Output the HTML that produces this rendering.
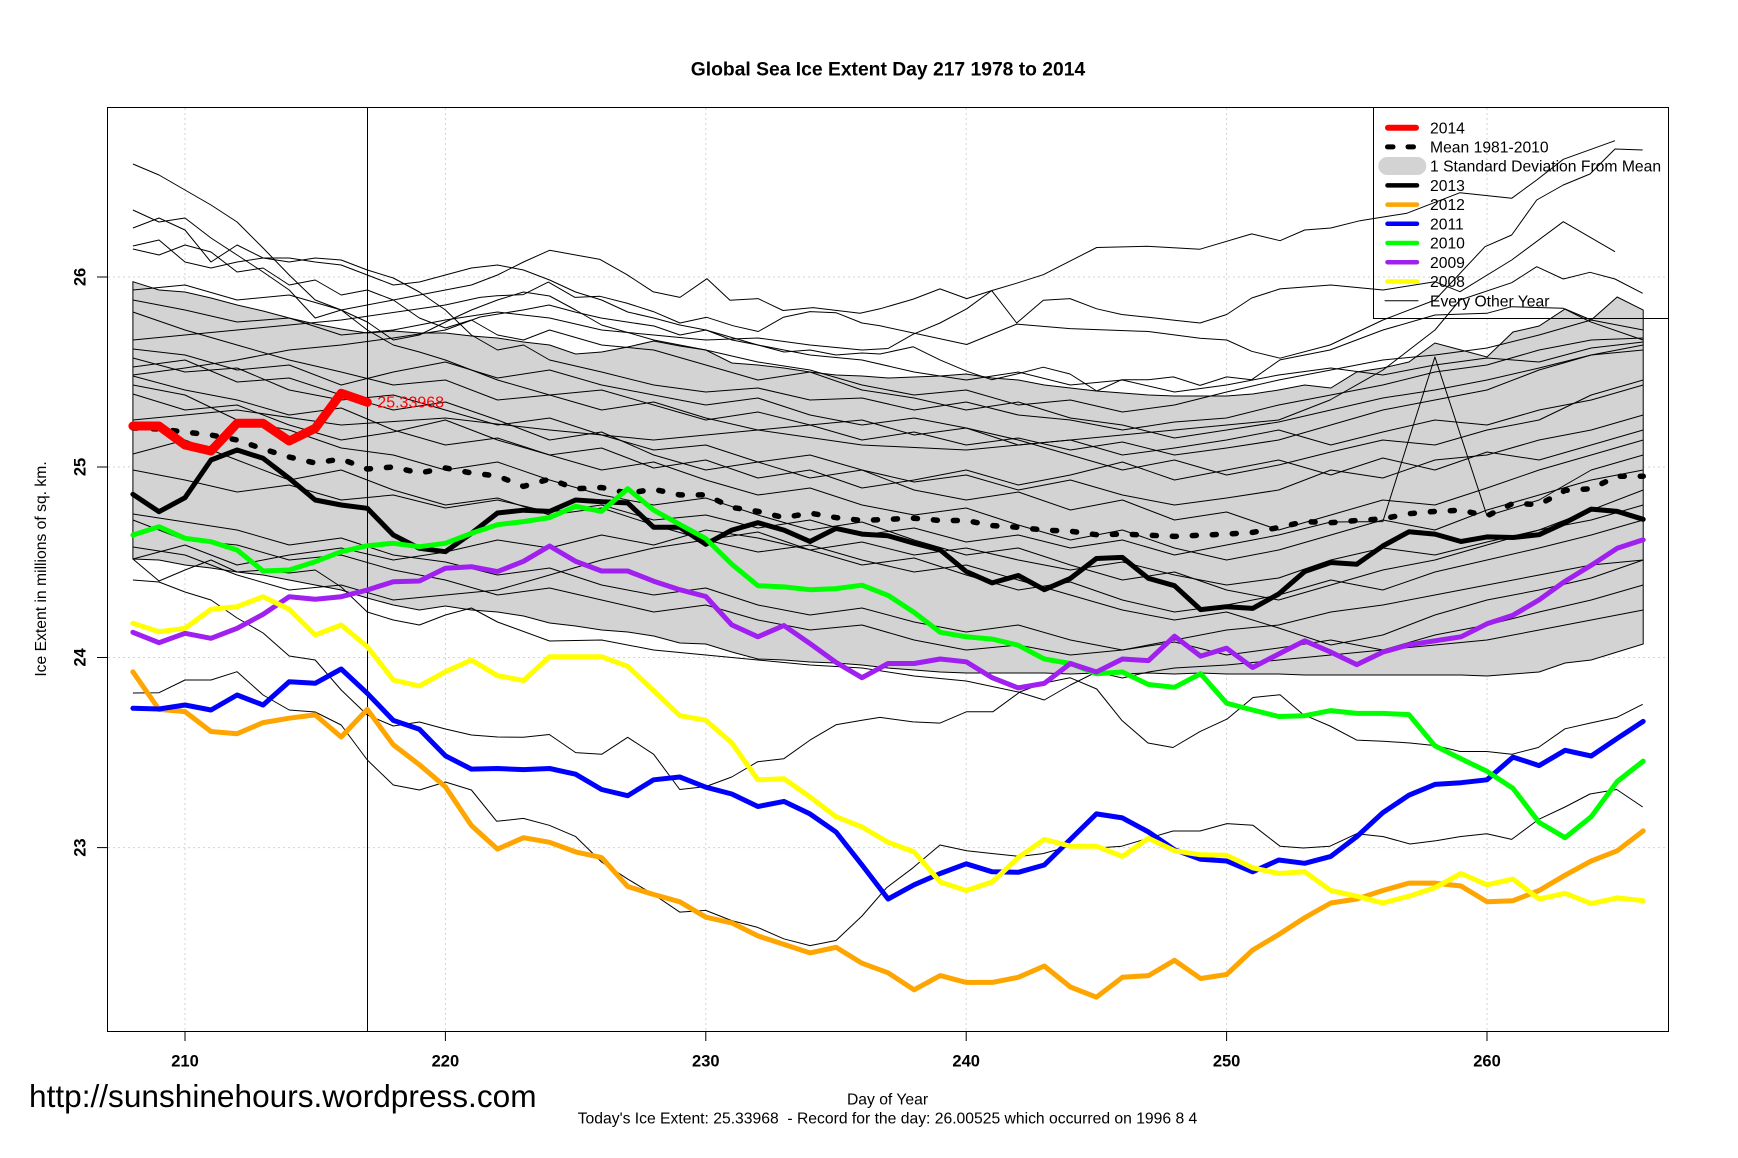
<!DOCTYPE html>
<html><head><meta charset="utf-8"><style>
html,body{margin:0;padding:0;background:#fff;}
svg{display:block;font-family:"Liberation Sans",Arial,sans-serif;}
</style></head><body>
<svg width="1738" height="1158" viewBox="0 0 1738 1158" xmlns="http://www.w3.org/2000/svg">
<rect width="1738" height="1158" fill="#fff"/>
<text x="888" y="75.3" font-size="19.3" font-weight="bold" text-anchor="middle">Global Sea Ice Extent Day 217 1978 to 2014</text>
<g stroke="#d3d3d3" stroke-width="1" stroke-dasharray="2 3" fill="none">
<line x1="185" y1="108" x2="185" y2="1031"/><line x1="445.4" y1="108" x2="445.4" y2="1031"/><line x1="705.8" y1="108" x2="705.8" y2="1031"/><line x1="966.2" y1="108" x2="966.2" y2="1031"/><line x1="1226.6" y1="108" x2="1226.6" y2="1031"/><line x1="1487" y1="108" x2="1487" y2="1031"/>
<line x1="108" y1="277" x2="1668" y2="277"/><line x1="108" y1="467" x2="1668" y2="467"/><line x1="108" y1="657.5" x2="1668" y2="657.5"/><line x1="108" y1="847.6" x2="1668" y2="847.6"/>
</g>
<polygon fill="#d3d3d3" stroke="#000" stroke-width="1" points="132.9,281.7 159,290 185,292 211,298 237.1,305 263.1,311 289.2,318 315.2,324 341.2,329 367.3,333 393.3,331 419.4,333 445.4,333 471.4,336 497.5,338 523.5,342 549.6,345 575.6,354 601.6,352 627.7,347 653.7,341 679.8,346 705.8,350 731.8,363 757.9,365 783.9,368 810,372 836,375 862,376 888.1,378 914.1,377 940.2,376 966.2,374 992.2,378 1018.3,380 1044.3,385 1070.4,388 1096.4,391 1122.4,393 1148.5,395 1174.5,396 1200.6,396 1226.6,396 1252.6,394 1278.7,390 1304.7,385 1330.8,388 1356.8,372 1382.8,368 1408.9,362 1434.9,343 1461,350 1487,357 1513,332 1539.1,326 1565.1,309 1591.2,320 1617.2,297 1643.2,310 1643.2,644 1617.2,652 1591.2,660 1565.1,663 1539.1,672 1513,674 1487,676 1461,675 1434.9,675 1408.9,675 1382.8,675 1356.8,675 1330.8,675 1304.7,675 1278.7,674 1252.6,674 1226.6,674 1200.6,673 1174.5,674 1148.5,673 1122.4,674 1096.4,673 1070.4,674 1044.3,673 1018.3,673 992.2,673 966.2,673 940.2,672 914.1,670 888.1,668 862,665 836,663 810,662 783.9,660 757.9,659 731.8,652 705.8,644 679.8,643 653.7,636 627.7,632 601.6,630 575.6,626 549.6,623 523.5,616 497.5,612 471.4,610 445.4,606 419.4,610 393.3,605 367.3,598 341.2,590 315.2,585 289.2,580 263.1,575 237.1,572 211,568 185,565 159,560 132.9,559"/>
<g fill="none" stroke="#000" stroke-width="1" stroke-linejoin="round">
<polyline points="132.9,164 159,175 185,190 211,205 237.1,222 263.1,248 289.2,275 315.2,300 341.2,310 367.3,330 393.3,345 419.4,352 445.4,360 497.5,380 549.6,395 601.6,390 653.7,405 705.8,420 757.9,412 810,425 862,420 914.1,435 966.2,428 1018.3,445 1070.4,440 1122.4,455 1174.5,448 1226.6,440 1278.7,430 1330.8,445 1382.8,432 1434.9,420 1487,425 1539.1,410 1591.2,400 1643.2,385"/>
<polyline points="132.9,210 159,222 185,218 211,238 237.1,255 263.1,272 289.2,290 315.2,318 341.2,310 367.3,322 393.3,340 419.4,335 445.4,322 471.4,310 497.5,300 523.5,292 549.6,296 575.6,310 601.6,325 653.7,340 705.8,350 757.9,362 810,370 862,385 914.1,395 966.2,390 1018.3,405 1070.4,400 1122.4,412 1174.5,405 1226.6,392 1278.7,380 1330.8,370 1382.8,360 1434.9,355 1487,348 1539.1,335 1591.2,320 1643.2,330"/>
<polyline points="132.9,228 159,218 185,230 211,262 237.1,245 263.1,258 289.2,262 315.2,258 341.2,260 367.3,270 393.3,278 419.4,292 445.4,310 471.4,335 497.5,350 523.5,345 549.6,360 601.6,372 653.7,385 705.8,392 757.9,388 810,400 862,398 914.1,410 966.2,402 1018.3,415 1070.4,420 1122.4,430 1174.5,422 1226.6,418 1278.7,405 1330.8,395 1382.8,385 1434.9,372 1487,365 1539.1,350 1591.2,340 1643.2,338"/>
<polyline points="132.9,246 159,240 185,262 211,268 237.1,262 263.1,258 289.2,258 315.2,262 341.2,265 367.3,275 393.3,285 419.4,282 445.4,275 471.4,268 497.5,265 523.5,270 549.6,280 575.6,292 601.6,300 627.7,312 653.7,318 679.8,325 705.8,330 757.9,345 810,355 862,360 914.1,372 966.2,380 1018.3,372 1070.4,385 1122.4,380 1174.5,392 1226.6,385 1278.7,375 1330.8,368 1382.8,375 1434.9,365 1487,358 1539.1,362 1591.2,348 1643.2,342"/>
<polyline points="132.9,249 159,255 185,245 211,252 237.1,272 263.1,268 289.2,285 315.2,280 341.2,295 367.3,290 393.3,300 419.4,318 445.4,328 471.4,320 497.5,335 523.5,340 549.6,330 601.6,345 653.7,350 705.8,365 757.9,380 810,372 862,390 914.1,398 966.2,410 1018.3,402 1070.4,418 1122.4,425 1174.5,438 1226.6,430 1278.7,422 1330.8,410 1382.8,398 1434.9,390 1487,380 1539.1,368 1591.2,355 1643.2,350"/>
<polyline points="132.9,300 185,310 237.1,322 289.2,318 341.2,335 393.3,330 445.4,320 497.5,312 549.6,318 601.6,330 653.7,335 705.8,340 757.9,338 810,345 862,350 888.1,348.5 913,334.3 940,323 966.7,308.8 991.7,290.6 1016.7,283.2 1043.3,274.7 1096.7,247.5 1146.7,246.3 1200,249.2 1251.7,233.9 1280,240.7 1304.7,230 1330.8,228 1360,220.7 1406.7,213.3 1460,192.7 1511.7,198.3 1536.7,180 1563.3,159.3 1615,140.7"/>
<polyline points="132.9,290 185,285 237.1,300 289.2,295 341.2,310 393.3,300 445.4,290 471.4,285 497.5,275 523.5,262 549.6,250.3 600,259.4 627,274.7 653,291.7 680,297.4 707,278.7 730,300.3 758,298.6 783,310.5 813,307.6 860,313.3 880,308.8 913.3,299.1 940,288.9 966.7,298.6 991.7,290.6 1016.7,323 1043.3,300.3 1070,298.6 1096.7,308.8 1121.7,314.5 1148.3,317.3 1173.3,320.1 1200,323 1226.7,314.5 1251.7,298 1280,288.9 1330.8,285 1383,290 1434.9,281.7 1460,291.7 1511.7,260 1563.3,221.7 1615,251.7"/>
<polyline points="132.9,340 237.1,330 341.2,320 445.4,305 480,297.4 496.7,295.7 523.3,294.6 548.3,282.1 575,297.4 600,296.3 626.7,303.1 653.3,311.6 680,323 706.7,317.3 733.3,325.8 758.3,331.5 783.3,317.3 810,311.6 836,312.7 862,323 880,325.8 966.7,344.5 1016.7,324.1 1070,328.6 1148.3,331.5 1200,338.3 1226.7,340 1251.7,351.3 1280,358.2 1330,345 1383,320 1435,300 1485,246.7 1511.7,235 1536.7,200 1563.3,185 1590,174 1615,149 1642.7,150"/>
<polyline points="132.9,375 185,368 237.1,360 289.2,350 341.2,345 393.3,338 445.4,330 480,317 523,310 549,305 575,312 601,318 627,322 654,326 680,335 706,330 732,340 758,345 784,352 810,350 836,355 862,353 880,354 913.3,346.8 940,359.9 966.7,371.2 991.7,379.7 1016.7,374 1043.3,367.2 1070,374 1096.7,391 1121.7,379.7 1148.3,379.7 1173.3,376.9 1200,385.4 1226.7,376.9 1251.7,379.7 1280,359.9 1330,350 1383,330 1435,315 1486.7,313.3 1511.7,306.7 1563.3,308.3 1590,321.7 1643,340"/>
<polyline points="132.9,420 237.1,410 341.2,425 445.4,418 549.6,430 653.7,440 757.9,430 862,445 966.2,450 1070.4,440 1174.5,430 1278.7,420 1330,400 1383,370 1435,330 1460,300 1511.7,282.7 1536.7,266.7 1563.3,279 1590,272.3 1615,279 1642.7,293.3"/>
<polyline points="132.9,470 185,480 237.1,492 289.2,485 341.2,500 393.3,495 445.4,508 497.5,500 549.6,512 601.6,505 653.7,520 705.8,515 757.9,528 810,520 862,535 914.1,528 966.2,542 1018.3,535 1070.4,548 1122.4,540 1174.5,555 1226.6,545 1278.7,535 1330.8,522 1382.8,521.6 1434.9,357 1487,515.9 1539.1,500 1591.2,470 1643.2,455"/>
<polyline points="132.9,312 185,330 237.1,345 289.2,360 341.2,372 393.3,385 445.4,380 497.5,400 549.6,395 601.6,410 653.7,402 705.8,418 757.9,430 810,425 862,440 914.1,432 966.2,445 1018.3,438 1070.4,450 1122.4,442 1174.5,455 1226.6,448 1278.7,440 1330.8,425 1382.8,410 1434.9,400 1487,390 1539.1,370 1591.2,355 1643.2,345"/>
<polyline points="132.9,349 185,355 237.1,370 289.2,365 341.2,385 393.3,372 445.4,362 497.5,378 549.6,370 601.6,385 653.7,395 705.8,405 757.9,398 810,415 862,425 914.1,418 966.2,428 1018.3,440 1070.4,455 1122.4,470 1174.5,460 1226.6,475 1278.7,465 1330.8,452 1382.8,440 1434.9,445 1487,430 1539.1,420 1591.2,395 1643.2,380"/>
<polyline points="132.9,358 185,372 237.1,368 289.2,390 341.2,400 393.3,395 445.4,410 497.5,425 549.6,418 601.6,435 653.7,450 705.8,445 757.9,462 810,455 862,470 914.1,482 966.2,475 1018.3,490 1070.4,480 1122.4,495 1174.5,505 1226.6,498 1278.7,490 1330.8,470 1382.8,478 1434.9,460 1487,455 1539.1,440 1591.2,430 1643.2,415"/>
<polyline points="132.9,367 185,360 237.1,382 289.2,378 341.2,395 393.3,410 445.4,402 497.5,420 549.6,440 601.6,432 653.7,455 705.8,470 757.9,462 810,478 862,470 914.1,490 966.2,500 1018.3,492 1070.4,510 1122.4,500 1174.5,520 1226.6,512 1278.7,530 1330.8,515 1382.8,500 1434.9,505 1487,488 1539.1,470 1591.2,455 1643.2,440"/>
<polyline points="132.9,376 185,390 237.1,400 289.2,415 341.2,408 393.3,430 445.4,445 497.5,438 549.6,455 601.6,470 653.7,462 705.8,480 757.9,495 810,488 862,505 914.1,515 966.2,508 1018.3,525 1070.4,540 1122.4,530 1174.5,548 1226.6,560 1278.7,550 1330.8,535 1382.8,520 1434.9,530 1487,510 1539.1,495 1591.2,480 1643.2,470"/>
<polyline points="132.9,385 185,395 237.1,420 289.2,430 341.2,448 393.3,455 445.4,470 497.5,462 549.6,480 601.6,495 653.7,505 705.8,498 757.9,515 810,530 862,522 914.1,540 966.2,555 1018.3,548 1070.4,565 1122.4,580 1174.5,572 1226.6,590 1278.7,600 1330.8,585 1382.8,570 1434.9,560 1487,545 1539.1,530 1591.2,510 1643.2,490"/>
<polyline points="132.9,394 185,410 237.1,405 289.2,425 341.2,440 393.3,432 445.4,420 497.5,440 549.6,455 601.6,448 653.7,468 705.8,460 757.9,478 810,470 862,488 914.1,480 966.2,470 1018.3,485 1070.4,475 1122.4,462 1174.5,480 1226.6,470 1278.7,460 1330.8,475 1382.8,458 1434.9,470 1487,452 1539.1,460 1591.2,445 1643.2,430"/>
<polyline points="132.9,454 185,440 237.1,460 289.2,480 341.2,470 393.3,490 445.4,505 497.5,498 549.6,515 601.6,508 653.7,525 705.8,540 757.9,532 810,550 862,565 914.1,558 966.2,575 1018.3,590 1070.4,582 1122.4,600 1174.5,612 1226.6,605 1278.7,595 1330.8,580 1382.8,590 1434.9,572 1487,560 1539.1,548 1591.2,535 1643.2,520"/>
<polyline points="132.9,514 185,522 237.1,530 289.2,545 341.2,538 393.3,555 445.4,562 497.5,575 549.6,568 601.6,585 653.7,595 705.8,588 757.9,605 810,615 862,608 914.1,622 966.2,632 1018.3,625 1070.4,640 1122.4,650 1174.5,642 1226.6,655 1278.7,648 1330.8,640 1382.8,650 1434.9,635 1487,625 1539.1,612 1591.2,600 1643.2,585"/>
<polyline points="132.9,520 185,540 237.1,545 289.2,560 341.2,555 393.3,570 445.4,580 497.5,595 549.6,588 601.6,600 653.7,612 705.8,605 757.9,620 810,630 862,625 914.1,640 966.2,650 1018.3,645 1070.4,655 1122.4,650 1174.5,640 1226.6,630 1278.7,625 1330.8,612 1382.8,605 1434.9,595 1487,585 1539.1,575 1591.2,565 1643.2,560"/>
<polyline points="132.9,547 185,555 237.1,575 289.2,590 341.2,585 393.3,600 445.4,595 497.5,590 549.6,575 601.6,560 653.7,548 705.8,540 757.9,552 810,545 862,560 914.1,572 966.2,565 1018.3,580 1070.4,595 1122.4,610 1174.5,620 1226.6,612 1278.7,628 1330.8,645 1382.8,635 1434.9,615 1487,600 1539.1,590 1591.2,578 1643.2,560"/>
<polyline points="132.9,559 185,545 237.1,565 289.2,555 341.2,548 393.3,560 445.4,552 497.5,540 549.6,548 601.6,535 653.7,545 705.8,530 757.9,538 810,550 862,542 914.1,555 966.2,548 1018.3,560 1070.4,570 1122.4,562 1174.5,575 1226.6,585 1278.7,578 1330.8,560 1382.8,548 1434.9,555 1487,542 1539.1,530 1591.2,520 1643.2,505"/>
<polyline points="132.9,580 159,582 185,592 211,600 237.1,618 263.1,633 289.2,656 315.2,660 341.2,690 367.3,715 393.3,726 419.4,722 445.4,729 471.4,735 497.5,737 523.3,737.3 549.3,734.5 575.7,752.6 601.7,754.3 627.7,737.3 653.7,754.3 679.7,789.5 705.7,786.6 731.7,777 757.7,761.7 783.7,758.8 810,740.1 836,724.8 862,720.2 880,717.4 913,721.9 940,723.1 966.7,711.7 993,711.7 1020,691.9 1043,683.3 1070,677.7 1096.7,689 1121.7,720.2 1148,743 1173,747.5 1200,731.6 1227,719.1 1253,697.5 1280,694.7 1303.3,714.6 1330,726 1356.7,740.1 1383.3,741.3 1410,743 1436.7,745.8 1460,751.5 1486.7,751.5 1511.7,754.3 1538.3,747.5 1565,728.8 1590,723.1 1616.7,717.4 1642.7,704.3"/>
<polyline points="132.9,559 159,581 185,570 211,560 237.1,572 263.1,570 289.2,573 315.2,570 341.2,587 367.3,612 393.3,620 419.4,625 445.4,615 471.4,608 497.5,622 549.6,641 601.6,640 653.7,650 705.8,655 757.9,660 810,665 862,668 914.1,676 966.2,681 1018.3,692 1044.3,700 1070.4,685 1096.4,672 1122.4,678 1148.5,672 1174.5,668 1226.6,665 1278.7,660 1330.8,655 1382.8,650 1434.9,645 1487,640 1539.1,630 1591.2,620 1643.2,610"/>
<polyline points="132.9,693 159,692.7 185,680 211,680 237.1,671.7 263.1,695 289.2,710 315.2,712 341.2,725 367.3,760 393.3,785 419.4,790 445.4,782 471.4,790 496.7,821.3 523.3,818.4 549.3,825.3 575.7,836.6 601.7,862.1 627.7,879.1 653.7,894.5 679.7,912.1 705.7,910.4 731.7,920.6 757.7,927.4 783.7,938.8 810,945.6 836,940.5 862,916 886.7,887.6 913,867.8 940,845 966.7,850.8 993,853.6 1020,856.4 1043,853.6 1070,846.2 1096.7,848 1121.7,846.2 1148,838.3 1173,831 1200,831 1227,823.6 1253,825.3 1280,846.2 1303.3,848 1330,846.2 1356.7,833.7 1383.3,836.6 1410,844 1436.7,840.6 1460,836.6 1486.7,833.7 1511.7,839.4 1538.3,819.6 1565,807 1590,794 1616.7,789.5 1642.7,807"/>
</g>
<line x1="367.5" y1="108" x2="367.5" y2="1031" stroke="#000" stroke-width="1"/>
<polyline fill="none" stroke="#000" stroke-width="5.5" stroke-linecap="round" stroke-linejoin="round" stroke-dasharray="4 16" points="132.9,428 159,429 185,432 211,435 237.1,440 263.1,449 289.2,457 315.2,463 341.2,459 367.3,469 393.3,467 419.4,473 445.4,468 471.4,473 497.5,476 523.5,486.4 549.6,479 575.6,488.7 601.6,487.5 627.7,493.2 653.7,489.3 679.8,494.9 705.8,494.9 731.8,507.4 757.9,511.4 783.9,517.6 810,513.1 836,517.6 862,520.5 888.1,519.3 914.1,518.2 940.2,520.5 966.2,520.5 992.2,525.6 1018.3,527.3 1044.3,530.1 1070.4,531.2 1096.4,534.7 1122.4,534.1 1148.5,535.2 1174.5,536.4 1200.6,535.2 1226.6,534.1 1252.6,532.4 1278.7,527.5 1304.7,521.6 1330.8,522.7 1356.8,520.5 1382.8,518.8 1408.9,513.7 1434.9,511.4 1461,510.2 1487,515.9 1513,503.4 1539.1,504.6 1565.1,490.4 1591.2,488.7 1617.2,476.2 1643.2,476.2"/>
<g fill="none" stroke-width="5" stroke-linecap="round" stroke-linejoin="round">
<polyline stroke="#000" points="132.9,494.3 159,511.7 185,497.7 211,460 237.1,450 263.1,458.3 289.2,478.3 315.2,500 341.2,505 367.3,508.3 393.3,535 419.4,548.3 445.4,551.7 471.4,533.3 497.5,513 523.5,510.2 549.6,511.4 575.6,500 601.6,501.7 627.7,502.9 653.7,527.3 679.8,527.3 705.8,544.3 731.8,530.1 757.9,522.7 783.9,530.1 810,541.5 836,528.4 862,534.1 888.1,535.8 914.1,543.2 940.2,550 966.2,571.5 992.2,582.9 1018.3,575.5 1044.3,589.7 1070.4,578.4 1096.4,558.5 1122.4,557.4 1148.5,578.4 1174.5,585.7 1200.6,609.6 1226.6,606.7 1252.6,608.4 1278.7,594 1304.7,571.5 1330.8,562.5 1356.8,564.2 1382.8,546 1408.9,531.8 1434.9,534.1 1461,541.5 1487,536.9 1513,537.5 1539.1,534.7 1565.1,522.7 1591.2,509.1 1617.2,511.4 1643.2,519.3"/>
<polyline stroke="#FFA500" points="132.9,671.8 159,709.4 185,711.6 211,731.5 237.1,733.7 263.1,722.6 289.2,718.2 315.2,714.9 341.2,737 367.3,709.4 393.3,744.8 419.4,764.7 445.4,786.8 471.4,825.5 497.5,849.1 523.5,837.7 549.6,842.3 575.6,851.9 601.6,857.6 627.7,886.5 653.7,894.5 679.8,901.8 705.8,917.2 731.8,922.9 757.9,935.9 783.9,944.4 810,952.9 836,947.3 862,963.2 888.1,972.8 914.1,989.8 940.2,975.6 966.2,982.4 992.2,982.4 1018.3,977.3 1044.3,966 1070.4,987 1096.4,997.2 1122.4,977.3 1148.5,975.6 1174.5,960.3 1200.6,978.5 1226.6,974.5 1252.6,950.1 1278.7,934.5 1304.7,917.7 1330.8,903 1356.8,899 1382.8,890.5 1408.9,883.1 1434.9,883.1 1461,886 1487,901.8 1513,900.7 1539.1,890.5 1565.1,875.2 1591.2,861 1617.2,850.8 1643.2,830.9"/>
<polyline stroke="#0000FF" points="132.9,708.3 159,709 185,705 211,710 237.1,695 263.1,705 289.2,681.7 315.2,683.3 341.2,669 367.3,693.3 393.3,720.4 419.4,729.3 445.4,755.8 471.4,769.1 497.5,768.5 523.5,769.6 549.6,768.5 575.6,774.2 601.6,789.5 627.7,795.7 653.7,779.8 679.8,777 705.8,787.2 731.8,794 757.9,806.5 783.9,801.4 810,813.9 836,832 862,865 888.1,899 914.1,884.8 940.2,873.5 966.2,863.8 992.2,871.8 1018.3,872.3 1044.3,865 1070.4,839.4 1096.4,813.9 1122.4,817.9 1148.5,832 1174.5,849.7 1200.6,859.3 1226.6,861 1252.6,871.8 1278.7,860 1304.7,863.3 1330.8,856.4 1356.8,836.6 1382.8,812.7 1408.9,795.2 1434.9,784.4 1461,782.7 1487,779.8 1513,757.1 1539.1,765.6 1565.1,750.3 1591.2,756 1617.2,738.4 1643.2,721.4"/>
<polyline stroke="#00FF00" points="132.9,535 159,526.7 185,538.3 211,541.7 237.1,550 263.1,571 289.2,570 315.2,561.7 341.2,551.7 367.3,545.7 393.3,543.3 419.4,546.7 445.4,543.3 471.4,533.3 497.5,524.7 523.5,521.6 549.6,517.6 575.6,506.3 601.6,511.4 627.7,488.7 653.7,510.2 679.8,524.4 705.8,538.6 731.8,564.2 757.9,585.7 783.9,586.9 810,589.7 836,588.6 862,585.2 888.1,595.4 914.1,612.4 940.2,632.3 966.2,636.8 992.2,639.1 1018.3,645.3 1044.3,659 1070.4,663.5 1096.4,673.7 1122.4,672 1148.5,684.5 1174.5,687.3 1200.6,673.7 1226.6,703.2 1252.6,710 1278.7,716.5 1304.7,715.7 1330.8,710.6 1356.8,713.4 1382.8,713.4 1408.9,714.6 1434.9,745.8 1461,758.8 1487,771.3 1513,788.4 1539.1,822.4 1565.1,837.7 1591.2,816.7 1617.2,781.5 1643.2,761.1"/>
<polyline stroke="#A020F0" points="132.9,632.3 159,642.7 185,633.3 211,638.3 237.1,628.3 263.1,614.3 289.2,596.7 315.2,599.3 341.2,596.7 367.3,590 393.3,581.7 419.4,581 445.4,568.3 471.4,566.7 497.5,571.6 523.5,561.3 549.6,546 575.6,561.3 601.6,571 627.7,571 653.7,581.2 679.8,589.7 705.8,596.5 731.8,624.9 757.9,636.8 783.9,625.5 810,643.6 836,662.4 862,677.7 888.1,663.5 914.1,663.5 940.2,659 966.2,661.8 992.2,677.7 1018.3,687.9 1044.3,683.4 1070.4,663.5 1096.4,672 1122.4,659 1148.5,660.6 1174.5,636.2 1200.6,656.1 1226.6,648.2 1252.6,667.5 1278.7,654 1304.7,640.8 1330.8,652.1 1356.8,664.6 1382.8,652.1 1408.9,644.8 1434.9,640.8 1461,636.8 1487,623.8 1513,615.2 1539.1,599.9 1565.1,581.2 1591.2,565.3 1617.2,548.3 1643.2,539.8"/>
<polyline stroke="#FFFF00" points="132.9,623.3 159,631.7 185,628.3 211,609.3 237.1,606.7 263.1,596.7 289.2,609.3 315.2,635 341.2,625 367.3,646.7 393.3,680 419.4,686 445.4,671.7 471.4,660 497.5,675.7 523.5,680.5 549.6,656.7 575.6,656.7 601.6,656.7 627.7,666.3 653.7,690.7 679.8,715.7 705.8,720.2 731.8,742.9 757.9,779.8 783.9,778.7 810,796.9 836,816.7 862,827 888.1,842.3 914.1,851.9 940.2,882 966.2,890.5 992.2,882 1018.3,857.6 1044.3,839.4 1070.4,846.2 1096.4,846.2 1122.4,856.4 1148.5,838.3 1174.5,850.8 1200.6,854.8 1226.6,855.3 1252.6,867.8 1278.7,873.5 1304.7,871.8 1330.8,890.5 1356.8,896.2 1382.8,903 1408.9,896.2 1434.9,887.7 1461,873.5 1487,884.8 1513,879.1 1539.1,899 1565.1,893.3 1591.2,903.6 1617.2,897.9 1643.2,900.7"/>
<polyline stroke="#FF0000" stroke-width="9" points="132.9,426 159,426 185,445 211,451 237.1,423.3 263.1,423.3 289.2,441 315.2,428.3 341.2,393.3 367.3,402.3"/>
</g>
<text x="377.3" y="407.5" font-size="16" fill="#FF0000">25.33968</text>
<rect x="107.5" y="107.5" width="1561" height="924" fill="none" stroke="#000" stroke-width="1"/>
<g stroke="#000" stroke-width="1">
<line x1="97" y1="277" x2="107.5" y2="277"/><line x1="97" y1="467" x2="107.5" y2="467"/><line x1="97" y1="657.5" x2="107.5" y2="657.5"/><line x1="97" y1="847.6" x2="107.5" y2="847.6"/>
<line x1="185" y1="1031.5" x2="185" y2="1041"/><line x1="445.4" y1="1031.5" x2="445.4" y2="1041"/><line x1="705.8" y1="1031.5" x2="705.8" y2="1041"/><line x1="966.2" y1="1031.5" x2="966.2" y2="1041"/><line x1="1226.6" y1="1031.5" x2="1226.6" y2="1041"/><line x1="1487" y1="1031.5" x2="1487" y2="1041"/>
</g>
<g font-size="16.5" font-weight="bold" text-anchor="middle">
<text x="185" y="1066.5">210</text><text x="445.4" y="1066.5">220</text><text x="705.8" y="1066.5">230</text><text x="966.2" y="1066.5">240</text><text x="1226.6" y="1066.5">250</text><text x="1487" y="1066.5">260</text>
<text transform="translate(85.5,277) rotate(-90)">26</text>
<text transform="translate(85.5,467) rotate(-90)">25</text>
<text transform="translate(85.5,657.5) rotate(-90)">24</text>
<text transform="translate(85.5,847.6) rotate(-90)">23</text>
</g>
<text transform="translate(46,569) rotate(-90)" font-size="15.7" text-anchor="middle">Ice Extent in millions of sq. km.</text>
<text x="887.5" y="1104.5" font-size="15.7" text-anchor="middle">Day of Year</text>
<text x="887.5" y="1123.5" font-size="15.7" text-anchor="middle" xml:space="preserve">Today's Ice Extent: 25.33968  - Record for the day: 26.00525 which occurred on 1996 8 4</text>
<text x="29" y="1107" font-size="31.6">http://sunshinehours.wordpress.com</text>
<g>
<rect x="1373.5" y="107.5" width="295" height="211" fill="none" stroke="#000" stroke-width="1"/>
<g stroke-linecap="round" fill="none">
<line x1="1388" y1="127.7" x2="1416" y2="127.7" stroke="#FF0000" stroke-width="6"/>
<line x1="1387.5" y1="146.9" x2="1393" y2="146.9" stroke="#000" stroke-width="5"/>
<line x1="1408" y1="146.9" x2="1413.5" y2="146.9" stroke="#000" stroke-width="5"/>
<line x1="1387.5" y1="185.4" x2="1417" y2="185.4" stroke="#000" stroke-width="4.5"/>
<line x1="1387.5" y1="204.6" x2="1417" y2="204.6" stroke="#FFA500" stroke-width="4.5"/>
<line x1="1387.5" y1="223.8" x2="1417" y2="223.8" stroke="#0000FF" stroke-width="4.5"/>
<line x1="1387.5" y1="243" x2="1417" y2="243" stroke="#00FF00" stroke-width="4.5"/>
<line x1="1387.5" y1="262.2" x2="1417" y2="262.2" stroke="#A020F0" stroke-width="4.5"/>
<line x1="1387.5" y1="281.5" x2="1417" y2="281.5" stroke="#FFFF00" stroke-width="4.5"/>
<line x1="1385" y1="300.7" x2="1418" y2="300.7" stroke="#000" stroke-width="1"/>
</g>
<rect x="1378.3" y="157" width="48" height="18" rx="9" fill="#d3d3d3"/>
<g font-size="15.7">
<text x="1430" y="133.3">2014</text>
<text x="1430" y="152.5">Mean 1981-2010</text>
<text x="1430" y="171.7">1 Standard Deviation From Mean</text>
<text x="1430" y="191">2013</text>
<text x="1430" y="210.2">2012</text>
<text x="1430" y="229.4">2011</text>
<text x="1430" y="248.6">2010</text>
<text x="1430" y="267.8">2009</text>
<text x="1430" y="287.1">2008</text>
<text x="1430" y="306.3">Every Other Year</text>
</g>
</g>
</svg>
</body></html>
